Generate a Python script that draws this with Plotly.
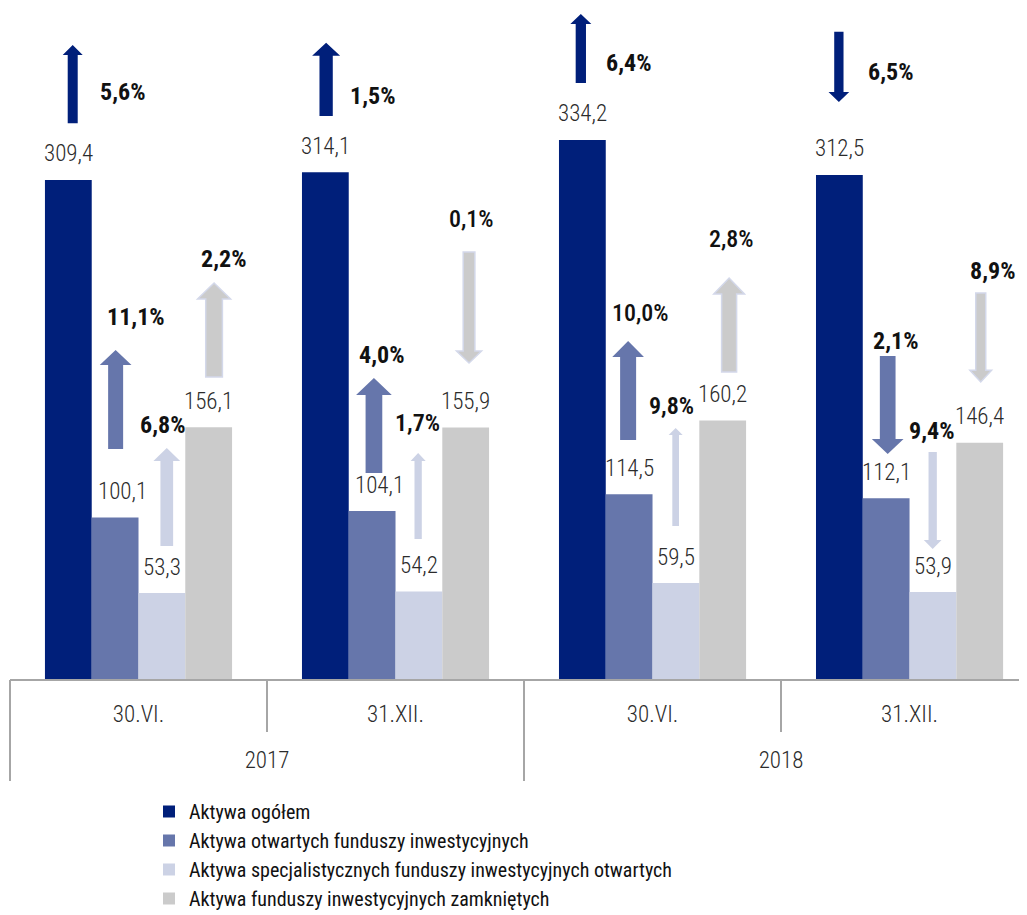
import plotly.graph_objects as go

# ---------------- data ----------------
years = ["2017", "2018"]
periods = ["30.VI.", "31.XII.", "30.VI.", "31.XII."]
series_names = [
    "Aktywa ogółem",
    "Aktywa otwartych funduszy inwestycyjnych",
    "Aktywa specjalistycznych funduszy inwestycyjnych otwartych",
    "Aktywa funduszy inwestycyjnych zamkniętych",
]
aktywa_ogolem = [309.4, 314.1, 334.2, 312.5]
aktywa_fio = [100.1, 104.1, 114.5, 112.1]
aktywa_sfio = [53.3, 54.2, 59.5, 53.9]
aktywa_fiz = [156.1, 155.9, 160.2, 146.4]
values = [aktywa_ogolem, aktywa_fio, aktywa_sfio, aktywa_fiz]

# change (%) and direction (+1 up, -1 down): [series][period]
change_labels = [
    ["5,6%", "1,5%", "6,4%", "6,5%"],
    ["11,1%", "4,0%", "10,0%", "2,1%"],
    ["6,8%", "1,7%", "9,8%", "9,4%"],
    ["2,2%", "0,1%", "2,8%", "8,9%"],
]
change_dir = [
    [1, 1, 1, -1],
    [1, 1, 1, -1],
    [1, 1, 1, -1],
    [1, -1, 1, -1],
]

# ---------------- style / layout ----------------
colors = ["#001F7A", "#6676AB", "#CCD2E5", "#CBCBCB"]
arrow_outline = ["rgba(0,0,0,0)", "rgba(0,0,0,0)", "rgba(0,0,0,0)", "#D3D8EA"]
FONT = "Roboto Condensed, Liberation Sans Narrow, Roboto, sans-serif"
AXIS_COLOR = "#A6A6A6"
W, H = 1019, 907
M_L, M_R, M_T, M_B = 2, 0, 0, 236
X_RANGE = [-0.5, 3.457]
Y_RANGE = [0, 416.0]
positions = [0, 1, 2, 3]
year_positions = [0.5, 2.5]
inner_bounds = [0.5, 2.5]
outer_bounds = [-0.5, 1.5]
bar_offsets = [-0.2725, -0.0908, 0.0908, 0.2725]
label_dx = [[0, 0, 0, 0], [0.03, 0.03, 0, 0], [0, 0, 0, 0], [0, 0, 0, 0]]

# arrow placement (x in category units, tail/tip on value axis), sizes in px
arrow_x = [
    [-0.256, 0.730, 1.721, 2.725],
    [-0.089, 0.916, 1.905, 2.915],
    [0.110, 1.088, 2.090, 3.090],
    [0.294, 1.286, 2.298, 3.277],
]
arrow_tail = [
    [344.6, 349.1, 369.5, 401.2],
    [142.6, 127.7, 148.2, 200.3],
    [82.5, 86.8, 94.9, 140.7],
    [187.3, 264.8, 190.4, 239.3],
]
arrow_tip = [
    [393.1, 394.4, 412.3, 357.8],
    [204.0, 186.6, 209.6, 139.5],
    [143.2, 140.1, 155.6, 80.6],
    [245.5, 195.9, 248.6, 184.2],
]
shaft_px = [
    [10, 13.3, 10.3, 9.3],
    [15, 16.7, 16, 15.7],
    [12.7, 7.3, 6.7, 8.3],
    [16.7, 11.7, 15, 10],
]
head_px = [
    [20, 28, 21, 20.7],
    [31.7, 35.7, 31.7, 31.7],
    [26.7, 15, 14, 17.7],
    [33, 25, 30.7, 21.7],
]
headlen_px = [
    [10, 13, 10, 10],
    [15, 17, 16, 15],
    [13, 8, 7, 9],
    [16, 12, 16, 11.7],
]
# change-label placement (left edge x, middle y)
lab_x = [
    [-0.158, 0.815, 1.811, 2.831],
    [-0.130, 0.850, 1.835, 2.851],
    [-0.002, 0.990, 1.979, 2.990],
    [0.235, 1.200, 2.212, 3.228],
]
lab_y = [
    [364.0, 361.5, 381.9, 376.4],
    [224.5, 200.9, 226.9, 209.6],
    [157.5, 158.7, 169.3, 153.8],
    [260.4, 285.2, 272.8, 253.0],
]
lab_weight = [
    [700, 700, 700, 700],
    [700, 700, 500, 700],
    [700, 600, 600, 700],
    [700, 500, 500, 700],
]

plot_w = W - M_L - M_R
plot_h = H - M_T - M_B
px_x = (X_RANGE[1] - X_RANGE[0]) / plot_w
px_y = (Y_RANGE[1] - Y_RANGE[0]) / plot_h

fig = go.Figure()
for s in range(4):
    fig.add_trace(go.Bar(
        x=positions, y=values[s], name=series_names[s],
        marker=dict(color=colors[s], line=dict(width=0)),
        hoverinfo="skip",
    ))
# carrier for the outer (year) axis
fig.add_trace(go.Scatter(x=[], y=[], xaxis="x2", yaxis="y",
                         showlegend=False, hoverinfo="skip"))

annotations = []
shapes = []
for s in range(4):
    for i in range(4):
        v = values[s][i]
        annotations.append(dict(
            x=positions[i] + bar_offsets[s] + label_dx[s][i], y=v, xref="x", yref="y",
            text=f"{v:.1f}".replace(".", ","), showarrow=False,
            yanchor="middle", yshift=26,
            font=dict(family=FONT, size=23, color="#2b2b2b", weight=300),
        ))
        annotations.append(dict(
            x=lab_x[s][i], y=lab_y[s][i], xref="x", yref="y",
            text=change_labels[s][i], showarrow=False,
            xanchor="left", yanchor="middle",
            font=dict(family=FONT, size=24, color="#111111", weight=lab_weight[s][i]),
        ))
        cx = arrow_x[s][i]
        y0 = arrow_tail[s][i]
        y1 = arrow_tip[s][i]
        d = change_dir[s][i]
        sw = shaft_px[s][i] / 2 * px_x
        hw = head_px[s][i] / 2 * px_x
        hb = y1 - d * headlen_px[s][i] * px_y
        path = (f"M{cx - sw},{y0} L{cx - sw},{hb} L{cx - hw},{hb} L{cx},{y1} "
                f"L{cx + hw},{hb} L{cx + sw},{hb} L{cx + sw},{y0} Z")
        shapes.append(dict(
            type="path", path=path, xref="x", yref="y",
            fillcolor=colors[s], line=dict(color=arrow_outline[s], width=1.5),
            layer="above",
        ))

fig.update_layout(
    width=W, height=H,
    margin=dict(l=M_L, r=M_R, t=M_T, b=M_B, pad=0, autoexpand=False),
    paper_bgcolor="white", plot_bgcolor="white",
    barmode="group", bargap=0.272, bargroupgap=0,
    font=dict(family=FONT, size=21, color="#2b2b2b"),
    xaxis=dict(
        range=X_RANGE, tickmode="array", tickvals=positions, ticktext=periods,
        showline=True, linecolor=AXIS_COLOR, linewidth=1.5,
        ticks="", ticklabelstandoff=14,
        minor=dict(tickmode="array", tickvals=inner_bounds + outer_bounds,
                   ticks="outside", ticklen=51, tickcolor=AXIS_COLOR, tickwidth=1.5,
                   showgrid=False),
        tickfont=dict(family=FONT, size=23, color="#2b2b2b", weight=300),
        showgrid=False, zeroline=False,
    ),
    xaxis2=dict(
        range=X_RANGE, overlaying="x", anchor="y", side="bottom",
        tickmode="array", tickvals=year_positions, ticktext=years,
        ticks="", ticklabelstandoff=65, showline=False,
        minor=dict(tickmode="array", tickvals=outer_bounds,
                   ticks="outside", ticklen=101, tickcolor=AXIS_COLOR, tickwidth=1.5,
                   showgrid=False),
        tickfont=dict(family=FONT, size=23, color="#2b2b2b", weight=300),
        showgrid=False, zeroline=False,
    ),
    yaxis=dict(range=Y_RANGE, visible=False, showgrid=False, zeroline=False),
    showlegend=True,
    legend=dict(
        orientation="v", x=0.1367, xanchor="left", y=-0.1684, yanchor="top",
        font=dict(family=FONT, size=20, color="#111111"),
        itemclick=False, itemdoubleclick=False, traceorder="normal",
        bgcolor="rgba(0,0,0,0)",
    ),
    annotations=annotations, shapes=shapes,
)

fig.write_html("out.html")
